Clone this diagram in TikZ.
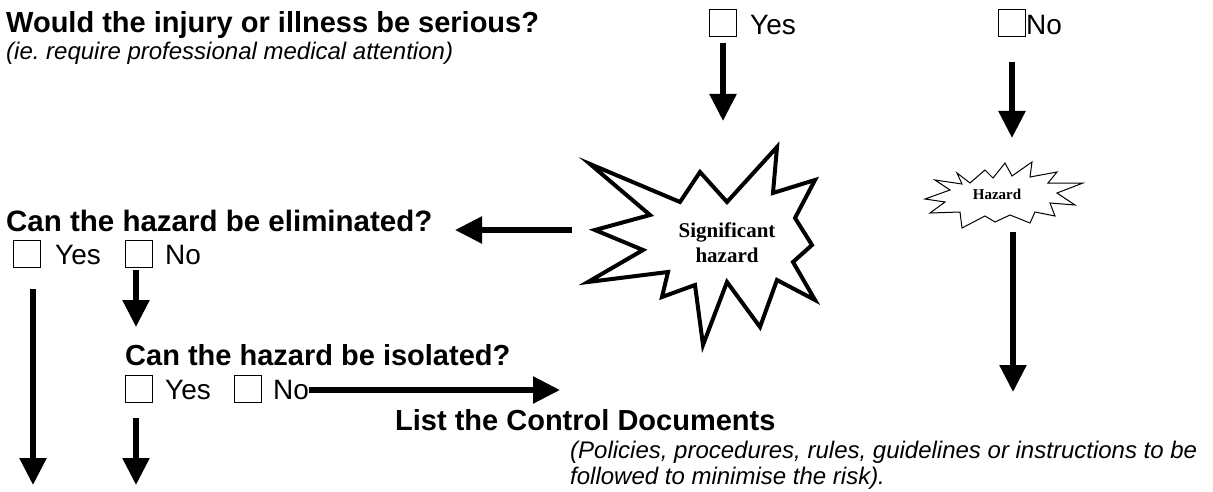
\documentclass[tikz,border=0pt]{standalone}
\usepackage{fontspec}
\setmainfont{Liberation Sans}
\newfontfamily\burstfont{Liberation Serif}
\usetikzlibrary{arrows.meta}
\tikzset{
  question/.style={font=\bfseries\fontsize{29}{33}\selectfont, anchor=base west, inner sep=0pt},
  answer/.style={font=\fontsize{28}{32}\selectfont, anchor=base west, inner sep=0pt},
  remark/.style={font=\itshape\fontsize{24}{28}\selectfont, anchor=base west, inner sep=0pt},
  tickbox/.style={draw, line width=1pt, minimum size=27pt, inner sep=0pt},
  flowarrow/.style={line width=5.5pt, -{Triangle[width=26pt,length=27pt]}},
  burst/.style={draw, line width=4pt, line join=miter, miter limit=20},
}
\begin{document}
\begin{tikzpicture}[x=1pt,y=-1pt]
  \useasboundingbox (0,0) rectangle (1213,492);
  %% first question
  \node[question] (serious) at (6,33) {Would the injury or illness be serious?};
  \node[remark] (serioushint) at (6,60) {(ie.\ require professional medical attention)};
  \node[tickbox] (yesA) at (723,23) {};
  \node[answer] (yesAtext) at (750,35) {Yes};
  \node[tickbox] (noA) at (1011.5,23) {};
  \node[answer] (noAtext) at (1026,35) {No};
  \coordinate (yesAfrom) at (723,43);
  \coordinate (yesAto) at (723,121);
  \coordinate (noAfrom) at (1012,62);
  \coordinate (noAto) at (1012,138);
  \draw[flowarrow] (yesAfrom) -- (yesAto);
  \draw[flowarrow] (noAfrom) -- (noAto);
  %% significant hazard
  \draw[burst] (777,147) -- (773,193) -- (815,180) -- (795,218) -- (812,245)
    -- (793,262) -- (815,300) -- (777,280) -- (760,327) -- (727,282)
    -- (703,345) -- (695,285) -- (662,297) -- (668,272) -- (588,282)
    -- (643,250) -- (595,230) -- (650,215) -- (590,164) -- (680,202)
    -- (700,172) -- (727,202) -- cycle;
  \node[font=\burstfont\bfseries\fontsize{21}{25}\selectfont, align=center] (sig) at (727,243) {Significant\\hazard};
  %% hazard
  \draw[line width=1pt, line join=miter] (957,173) -- (970,183) -- (985,170) -- (993,178)
    -- (1005,163) -- (1012,176) -- (1032,162) -- (1030,177) -- (1057,172)
    -- (1048,183) -- (1083,183) -- (1057,193) -- (1075,205) -- (1050,203)
    -- (1055,216) -- (1035,212) -- (1030,223) -- (1010,215) -- (995,222)
    -- (985,216) -- (962,228) -- (960,212) -- (930,213) -- (945,202)
    -- (925,199) -- (950,190) -- (935,180) -- (962,184) -- cycle;
  \node[font=\burstfont\bfseries\fontsize{15}{17}\selectfont] (haz) at (997,194) {Hazard};
  %% eliminate
  \coordinate (sigfrom) at (572,230);
  \coordinate (elimto) at (455,230);
  \draw[flowarrow] (sigfrom) -- (elimto);
  \node[question, font=\bfseries\fontsize{29.5}{33}\selectfont] (elim) at (6,231) {Can the hazard be eliminated?};
  \node[tickbox] (yesB) at (27,253.5) {};
  \node[answer] (yesBtext) at (55,264) {Yes};
  \node[tickbox] (noB) at (139,253.5) {};
  \node[answer] (noBtext) at (165,264) {No};
  \coordinate (yesBfrom) at (33,289);
  \coordinate (yesBto) at (33,485);
  \coordinate (noBfrom) at (136,270);
  \coordinate (noBto) at (136,327);
  \draw[flowarrow] (yesBfrom) -- (yesBto);
  \draw[flowarrow] (noBfrom) -- (noBto);
  %% isolate
  \node[question] (iso) at (125,365) {Can the hazard be isolated?};
  \node[tickbox] (yesC) at (139,388.5) {};
  \node[answer] (yesCtext) at (165,399) {Yes};
  \node[tickbox] (noC) at (247.5,388.5) {};
  \node[answer] (noCtext) at (273,399) {No};
  \coordinate (yesCfrom) at (136,418);
  \coordinate (yesCto) at (136,485);
  \coordinate (noCto) at (560,390);
  \draw[flowarrow] (yesCfrom) -- (yesCto);
  \draw[flowarrow] ([yshift=9pt]noCtext.base east) -- (noCto);
  %% control documents
  \coordinate (hazfrom) at (1013,232);
  \coordinate (hazto) at (1013,392);
  \draw[flowarrow] (hazfrom) -- (hazto);
  \node[question] (docs) at (395,430) {List the Control Documents};
  \node[remark] (docshint) at (570,458) {(Policies, procedures, rules, guidelines or instructions to be};
  \node[remark] (docshint2) at (570,484) {followed to minimise the risk).};
\end{tikzpicture}
\end{document}
